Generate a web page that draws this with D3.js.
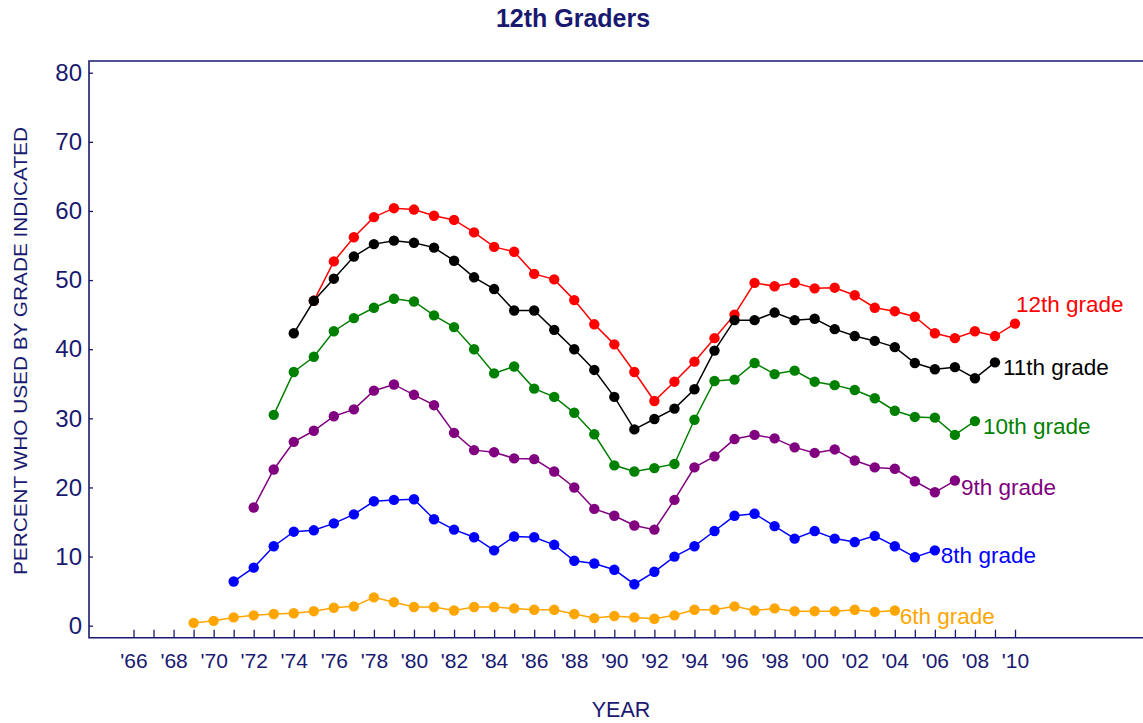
<!DOCTYPE html>
<html>
<head>
<meta charset="utf-8">
<script src="https://cdn.jsdelivr.net/npm/d3@7"></script>
<style>
  html, body { margin: 0; padding: 0; background: #fff; }
  svg { display: block; font-family: "Liberation Sans", Arial, sans-serif; }
</style>
</head>
<body>
<svg id="chart" width="1143" height="723"></svg>
<script>
// Percent who used, by grade indicated, for each survey year
const grade6Start = 1969;
const grade6 = [0.4,0.7,1.2,1.5,1.7,1.8,2.1,2.6,2.8,4.1,3.4,2.7,2.7,2.2,2.7,2.7,2.5,2.3,2.3,1.7,1.1,1.4,1.2,1.0,1.5,2.3,2.3,2.8,2.2,2.5,2.1,2.1,2.1,2.3,2.0,2.2];

const grade8Start = 1971;
const grade8 = [6.4,8.4,11.5,13.6,13.8,14.8,16.1,18.0,18.2,18.3,15.4,13.9,12.8,10.9,12.9,12.8,11.7,9.4,9.0,8.1,6.0,7.8,10.0,11.5,13.7,15.9,16.2,14.4,12.6,13.7,12.6,12.1,13.0,11.5,9.9,10.9];

const grade9Start = 1972;
const grade9 = [17.1,22.6,26.6,28.2,30.3,31.3,34.0,34.9,33.4,31.9,27.9,25.4,25.1,24.2,24.1,22.3,20.0,16.9,15.9,14.5,13.9,18.2,22.9,24.5,27.0,27.6,27.1,25.8,25.0,25.5,23.9,22.9,22.7,20.9,19.3,21.0];

const grade10Start = 1973;
const grade10 = [30.5,36.7,38.9,42.6,44.5,46.0,47.3,46.9,44.9,43.2,40.0,36.5,37.5,34.3,33.1,30.8,27.7,23.2,22.3,22.8,23.4,29.8,35.4,35.6,38.0,36.4,36.9,35.3,34.8,34.1,32.9,31.1,30.2,30.1,27.6,29.6];

const grade11Start = 1974;
const grade11 = [42.3,47.0,50.2,53.4,55.2,55.7,55.4,54.7,52.8,50.4,48.7,45.6,45.6,42.8,40.0,37.0,33.1,28.4,29.9,31.4,34.2,39.8,44.2,44.2,45.3,44.2,44.4,42.9,41.9,41.2,40.3,38.0,37.1,37.4,35.8,38.1];

const grade12Start = 1975;
const grade12 = [47.0,52.7,56.2,59.1,60.4,60.2,59.3,58.7,56.9,54.8,54.1,50.9,50.1,47.1,43.6,40.7,36.7,32.5,35.3,38.2,41.6,45.0,49.6,49.1,49.6,48.8,48.9,47.8,46.0,45.5,44.7,42.3,41.6,42.6,41.9,43.7];

const seriesNames = ["12th grade","11th grade","10th grade","9th grade","8th grade","6th grade"];
const yTicks = [0,10,20,30,40,50,60,70,80];
const yearFirst = 1966, yearLast = 2010;

const series = [
  { name: seriesNames[0], start: grade12Start, values: grade12, color: "#ff0000", dx: 1,  dy: -12 },
  { name: seriesNames[1], start: grade11Start, values: grade11, color: "#000000", dx: 8,  dy: 13 },
  { name: seriesNames[2], start: grade10Start, values: grade10, color: "#008000", dx: 8,  dy: 13 },
  { name: seriesNames[3], start: grade9Start,  values: grade9,  color: "#800080", dx: 6,  dy: 14 },
  { name: seriesNames[4], start: grade8Start,  values: grade8,  color: "#0000ff", dx: 6,  dy: 13 },
  { name: seriesNames[5], start: grade6Start,  values: grade6,  color: "#ffa500", dx: 5,  dy: 14 }
].map(s => ({ ...s, points: s.values.map((v, i) => ({ year: s.start + i, value: v })) }));

const navy = "#191970";
const svg = d3.select("#chart");
const frame = { left: 89, top: 61, right: 1143, bottom: 637.7 };

const x = d3.scaleLinear().domain([yearFirst, yearLast]).range([133.5, 1015]);
const y = d3.scaleLinear().domain([0, 80]).range([625.7, 72.7]);

// Title
svg.append("text")
  .attr("x", 573).attr("y", 27)
  .attr("text-anchor", "middle")
  .attr("font-size", 25).attr("font-weight", "bold")
  .attr("fill", navy)
  .text("12th Graders");

// Y axis: short inward ticks, large labels
const yAxis = svg.append("g")
  .attr("transform", `translate(${frame.left},0)`)
  .call(d3.axisLeft(y).tickValues(yTicks).tickSize(-4).tickPadding(7));
yAxis.select(".domain").remove();
yAxis.selectAll(".tick line").attr("stroke", navy).attr("stroke-width", 1.3);
yAxis.selectAll(".tick text").attr("fill", navy).attr("font-size", 24)
  .attr("font-family", "Liberation Sans, Arial, sans-serif");

// X axis: a tick every year, labels every second year
const years = d3.range(yearFirst, yearLast + 1);
const xAxis = svg.append("g")
  .attr("transform", `translate(0,${frame.bottom})`)
  .call(d3.axisBottom(x).tickValues(years).tickSize(-8).tickPadding(15)
    .tickFormat(d => d % 2 === 0 ? "'" + String(d).slice(2) : ""));
xAxis.select(".domain").remove();
xAxis.selectAll(".tick line").attr("stroke", navy).attr("stroke-width", 1.3);
xAxis.selectAll(".tick text").attr("fill", navy).attr("font-size", 21)
  .attr("font-family", "Liberation Sans, Arial, sans-serif");

// Plot frame: top, left and bottom edges
const framePath = d3.path();
framePath.moveTo(frame.right, frame.top);
framePath.lineTo(frame.left, frame.top);
framePath.lineTo(frame.left, frame.bottom);
framePath.lineTo(frame.right, frame.bottom);
svg.append("path").attr("d", framePath.toString())
  .attr("fill", "none").attr("stroke", navy).attr("stroke-width", 1.6);

// Axis titles
svg.append("text")
  .attr("transform", "translate(27,351) rotate(-90)")
  .attr("text-anchor", "middle")
  .attr("font-size", 19).attr("fill", navy)
  .attr("textLength", 448).attr("lengthAdjust", "spacingAndGlyphs")
  .text("PERCENT WHO USED BY GRADE INDICATED");

svg.append("text")
  .attr("x", 621).attr("y", 717)
  .attr("text-anchor", "middle")
  .attr("font-size", 21.5).attr("fill", navy)
  .text("YEAR");

// Series lines, markers and end labels
const line = d3.line().x(d => x(d.year)).y(d => y(d.value));

series.forEach(s => {
  const g = svg.append("g");
  g.append("path").datum(s.points)
    .attr("d", line)
    .attr("fill", "none").attr("stroke", s.color).attr("stroke-width", 1.5);
  g.selectAll("circle").data(s.points).join("circle")
    .attr("cx", d => x(d.year)).attr("cy", d => y(d.value))
    .attr("r", 5.2).attr("fill", s.color);
  const last = s.points[s.points.length - 1];
  g.append("text")
    .attr("x", x(last.year) + s.dx).attr("y", y(last.value) + s.dy)
    .attr("font-size", 22.5).attr("fill", s.color)
    .text(s.name);
});
</script>
</body>
</html>
